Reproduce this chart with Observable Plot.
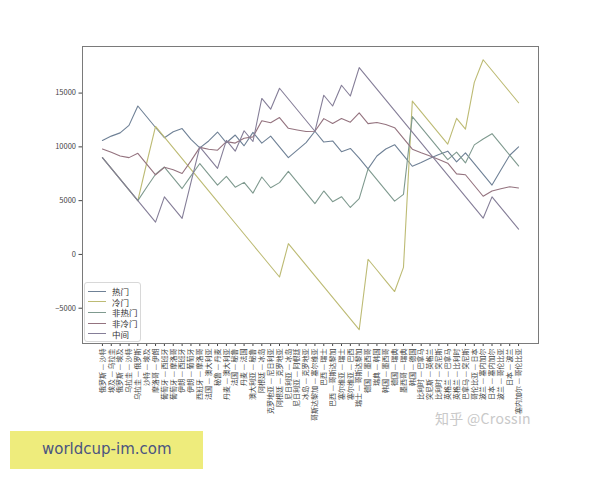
<!DOCTYPE html>
<html><head><meta charset="utf-8">
<script src="https://cdn.jsdelivr.net/npm/d3@7"></script>
<script src="https://cdn.jsdelivr.net/npm/@observablehq/plot@0.6"></script>
<style>
body{margin:0;background:#fff;}
#wrap{position:relative;width:600px;height:480px;overflow:hidden;background:#fff;font-family:"Noto Sans CJK SC","DejaVu Sans",sans-serif;}
#legend{position:absolute;left:84px;top:282px;width:55px;padding:3px 0 2px 0;border:1px solid #d8d8d8;border-radius:3px;background:rgba(255,255,255,0.85);font-size:8.5px;color:#333;}
#legend .row{display:flex;align-items:center;height:10.6px;}
#legend .sw{width:18px;height:0;border-top:1.2px solid;margin:0 6px 0 3px;}
#wm{position:absolute;left:435px;top:408px;font-size:14px;color:#c9c9c9;font-family:"Noto Sans CJK SC","DejaVu Sans",sans-serif;letter-spacing:0.3px;}
#site{position:absolute;left:10px;top:431px;width:193px;height:38px;background:#eeec7c;}
#site span{position:absolute;left:32px;top:9px;font-size:15px;color:#4a5480;font-family:"DejaVu Sans",sans-serif;}
svg g[aria-label="x-axis tick label"] text{font-size:7px;}
</style></head><body><div id="wrap"></div>
<script>
const matches = [
"俄罗斯 — 沙特","埃及 — 乌拉圭","俄罗斯 — 埃及","乌拉圭 — 沙特","乌拉圭 — 俄罗斯","沙特 — 埃及",
"摩洛哥 — 伊朗","葡萄牙 — 西班牙","葡萄牙 — 摩洛哥","伊朗 — 西班牙","伊朗 — 葡萄牙","西班牙 — 摩洛哥",
"法国 — 澳大利亚","秘鲁 — 丹麦","丹麦 — 澳大利亚","法国 — 秘鲁","丹麦 — 法国","澳大利亚 — 秘鲁",
"阿根廷 — 冰岛","克罗地亚 — 尼日利亚","阿根廷 — 克罗地亚","尼日利亚 — 冰岛","尼日利亚 — 阿根廷","冰岛 — 克罗地亚",
"哥斯达黎加 — 塞尔维亚","巴西 — 瑞士","巴西 — 哥斯达黎加","塞尔维亚 — 瑞士","塞尔维亚 — 巴西","瑞士 — 哥斯达黎加",
"德国 — 墨西哥","瑞典 — 韩国","韩国 — 墨西哥","德国 — 瑞典","墨西哥 — 瑞典","韩国 — 德国",
"比利时 — 巴拿马","突尼斯 — 英格兰","比利时 — 突尼斯","英格兰 — 巴拿马","英格兰 — 比利时","巴拿马 — 突尼斯",
"哥伦比亚 — 日本","波兰 — 塞内加尔","日本 — 塞内加尔","波兰 — 哥伦比亚","日本 — 波兰","塞内加尔 — 哥伦比亚"];

const hot = [10600,11000,11300,12000,13800,12800,11800,10850,11400,11700,10700,9900,
10550,11380,10380,11100,10100,11350,10350,11000,10000,9000,9690,10400,
11450,10450,10550,9550,9850,8950,7950,9150,9800,10200,9200,8200,
8550,8950,9300,9600,8600,9450,8450,7450,6450,7850,9220,10000];
const cold = [9000,8000,7000,6000,5000,8500,11900,10900,9900,8900,7900,6900,
5900,4900,3900,2900,1900,900,-100,-1100,-2100,1000,0,-1000,
-2000,-3000,-4000,-5000,-6000,-7000,-450,-1450,-2450,-3450,-1200,14250,
13250,12250,11250,10250,12650,11650,16000,18100,17100,16100,15100,14100];
const nonHot = [9000,8000,7000,6000,5000,6250,7450,8125,7125,6125,7300,8450,
7450,6450,7250,6250,6700,5700,7200,6200,6675,7725,6725,5725,
4725,5900,4900,5365,4365,5185,7960,6960,5960,4960,5585,12810,
11810,10810,9810,8810,9510,8510,10185,10735,11225,10225,9225,8225];
const nonCold = [9800,9500,9150,9000,9400,8400,7400,8100,7875,7525,8700,9950,
9775,9690,10490,10350,10800,10925,12425,12250,12725,11725,11570,11425,
11450,12625,12175,12640,12290,13160,12160,12260,12085,11785,10785,9785,
9460,9160,8835,8485,7485,7410,6410,5410,5900,6100,6285,6175];
const middle = [9000,8000,7000,6000,5000,4000,3000,5350,4350,3350,6700,10000,
9000,8000,10600,9600,11500,10500,14500,13500,15450,14450,13450,12450,
11450,14800,13800,15730,14730,17370,16370,15370,14370,13370,12370,11370,
10370,9370,8370,7370,6370,5370,4370,3370,5350,4350,3350,2350];

const seriesNames = ["热门","冷门","非热门","非冷门","中间"];
const seriesColors = ["#6f8196","#bdbb74","#7f9a8f","#94737f","#857e98"];
const yTicks = [-5000,0,5000,10000,15000];

const allSeries = [hot, cold, nonHot, nonCold, middle];
const data = [];
allSeries.forEach((arr, k) => arr.forEach((v, i) => data.push({i, v, s: seriesNames[k]})));

const fmt = d => (d < 0 ? "\u2212" + Math.abs(d) : String(d));

const chart = Plot.plot({
  width: 600, height: 480,
  marginLeft: 82, marginRight: 62, marginTop: 46, marginBottom: 137,
  style: {fontFamily: '"Noto Sans CJK SC","DejaVu Sans",sans-serif', fontSize: "7.5px", color: "#444", background: "transparent"},
  x: {domain: [-2.25, 49.25], ticks: d3.range(matches.length), tickFormat: i => matches[i], tickRotate: -90, tickSize: 3, tickPadding: 2, label: null},
  y: {domain: [-8281, 19331], ticks: yTicks, tickFormat: fmt, tickSize: 3.5, tickPadding: 3, label: null},
  color: {domain: seriesNames, range: seriesColors},
  marks: [
    Plot.frame({stroke: "#7a7a7a", strokeWidth: 1}),
    Plot.line(data, {x: "i", y: "v", z: "s", stroke: "s", strokeWidth: 1.1, curve: "linear"})
  ]
});
const wrap = document.getElementById("wrap");
wrap.appendChild(chart);

const lg = document.createElement("div");
lg.id = "legend";
seriesNames.forEach((n, k) => {
  const r = document.createElement("div"); r.className = "row";
  const sw = document.createElement("div"); sw.className = "sw"; sw.style.borderTopColor = seriesColors[k];
  const t = document.createElement("span"); t.textContent = n;
  r.appendChild(sw); r.appendChild(t); lg.appendChild(r);
});
wrap.appendChild(lg);

const wm = document.createElement("div"); wm.id = "wm"; wm.textContent = "知乎 @Crossin"; wrap.appendChild(wm);
const site = document.createElement("div"); site.id = "site";
const st = document.createElement("span"); st.textContent = "worldcup-im.com"; site.appendChild(st);
wrap.appendChild(site);
</script></body></html>
